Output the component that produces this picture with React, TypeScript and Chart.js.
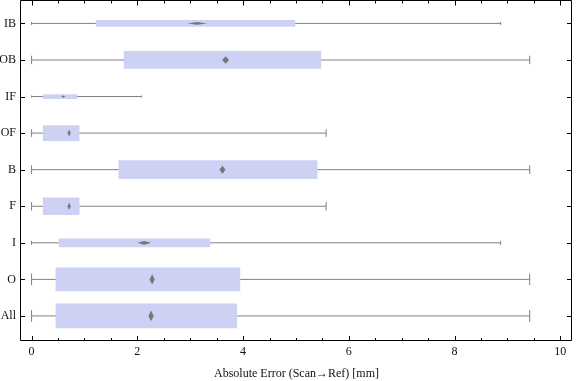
import React, { useEffect, useRef } from "react";
import { Chart, registerables } from "chart.js";

Chart.register(...registerables);

// ---- data ----
const categories = ["IB", "OB", "IF", "OF", "B", "F", "I", "O", "All"];
const minValues = [0, 0, 0, 0, 0, 0, 0, 0, 0];
const q1Values = [1.22, 1.75, 0.22, 0.22, 1.65, 0.22, 0.52, 0.46, 0.46];
const medianValues = [3.13, 3.67, 0.6, 0.71, 3.61, 0.71, 2.13, 2.28, 2.26];
const q3Values = [4.98, 5.47, 0.86, 0.9, 5.4, 0.9, 3.37, 3.94, 3.88];
const maxValues = [8.87, 9.42, 2.08, 5.57, 9.42, 5.57, 8.87, 9.42, 9.42];
// relative sample share (drives box thickness) and median confidence half-width
const sampleShare = [0.25, 0.71, 0.17, 0.63, 0.75, 0.71, 0.34, 0.96, 1.0];
const medianCI = [0.18, 0.066, 0.04, 0.03, 0.057, 0.03, 0.13, 0.05, 0.05];
const xTickValues = [0, 2, 4, 6, 8, 10];
const xAxisTitle = "Absolute Error (Scan\u2192Ref) [mm]";

// ---- style ----
const FONT = "'Liberation Serif', 'DejaVu Serif', serif";
const BOX_MAX = 24;
const BOX_COLOR = "rgb(205,210,245)";
const WHISKER_COLOR = "rgb(128,128,128)";
const DIAMOND_COLOR = "rgb(118,118,118)";

const framePlugin = {
  id: "frameAndMedians",
  afterDatasetsDraw(chart: any) {
    const ctx = chart.ctx;
    const xs = chart.scales.x;
    const ys = chart.scales.y;
    ctx.save();
    ctx.fillStyle = DIAMOND_COLOR;
    categories.forEach((_, i) => {
      const cx = xs.getPixelForValue(medianValues[i]);
      const hw = xs.getPixelForValue(medianValues[i] + medianCI[i]) - cx;
      const cy = ys.getPixelForValue(i);
      const hh = (sampleShare[i] * BOX_MAX * 0.45) / 2;
      ctx.beginPath();
      ctx.moveTo(cx - hw, cy);
      ctx.lineTo(cx, cy - hh);
      ctx.lineTo(cx + hw, cy);
      ctx.lineTo(cx, cy + hh);
      ctx.closePath();
      ctx.fill();
    });
    ctx.restore();
  },
  afterDraw(chart: any) {
    const ctx = chart.ctx;
    const { left, right, top, bottom } = chart.chartArea;
    const xs = chart.scales.x;
    const ys = chart.scales.y;
    ctx.save();
    ctx.strokeStyle = "#000";
    ctx.lineWidth = 1;
    ctx.beginPath();
    const l = Math.round(left) - 0.5;
    const r = Math.round(right) - 0.5;
    const t = Math.round(top) + 0.5;
    const b = Math.round(bottom) - 0.5;
    ctx.rect(l, t, r - l, b - t);
    ctx.stroke();
    ctx.beginPath();
    for (let v = 0; v <= 10.001; v += 0.5) {
      const px = Math.round(xs.getPixelForValue(v)) + 0.5;
      const major = Math.abs(v / 2 - Math.round(v / 2)) < 1e-6;
      const lenB = major ? 4.5 : 2.5;
      const lenT = major ? 5 : 3;
      ctx.moveTo(px, b);
      ctx.lineTo(px, b - lenB);
      ctx.moveTo(px, t);
      ctx.lineTo(px, t + lenT);
    }
    categories.forEach((_, i) => {
      const py = Math.round(ys.getPixelForValue(i)) + 0.5;
      ctx.moveTo(l, py);
      ctx.lineTo(l + 4.5, py);
      ctx.moveTo(r, py);
      ctx.lineTo(r - 4.5, py);
    });
    ctx.stroke();
    ctx.restore();
  },
};

export default function App() {
  const canvasRef = useRef<HTMLCanvasElement | null>(null);

  useEffect(() => {
    document.body.style.margin = "0";
    const canvas = canvasRef.current;
    if (!canvas) return;

    const whiskerSets = categories.map((_, i) => ({
      type: "line" as const,
      data: [
        { x: minValues[i], y: i },
        { x: maxValues[i], y: i },
      ],
      borderColor: WHISKER_COLOR,
      borderWidth: 1,
      pointStyle: "line" as const,
      rotation: 90,
      pointRotation: 90,
      pointRadius: (sampleShare[i] * BOX_MAX * 0.5) / 2,
      pointBorderWidth: 1,
      pointBorderColor: WHISKER_COLOR,
      pointHoverRadius: 0,
      order: 2,
    }));

    const boxSets = categories.map((_, i) => ({
      type: "bar" as const,
      data: [{ x: [q1Values[i], q3Values[i]], y: i }],
      backgroundColor: BOX_COLOR,
      borderWidth: 0,
      barThickness: sampleShare[i] * BOX_MAX,
      grouped: false,
      order: 1,
    }));

    const chart = new Chart(canvas, {
      type: "bar",
      data: { datasets: [...whiskerSets, ...boxSets] as any },
      options: {
        indexAxis: "y",
        animation: false,
        responsive: false,
        devicePixelRatio: 1,
        layout: { autoPadding: false, padding: { top: 0, right: 4, bottom: 0, left: 0 } },
        plugins: { legend: { display: false }, tooltip: { enabled: false } },
        scales: {
          x: {
            type: "linear",
            min: -0.2,
            max: 10.22,
            afterBuildTicks: (s: any) => {
              s.ticks = xTickValues.map((v) => ({ value: v }));
            },
            afterFit: (s: any) => {
              s.height = 40;
              s.paddingLeft = 0;
              s.paddingRight = 0;
            },
            grid: { display: false, drawTicks: false },
            border: { display: false },
            ticks: {
              color: "#111",
              padding: 4,
              font: { family: FONT, size: 12 },
              maxRotation: 0,
            },
            title: {
              display: true,
              text: xAxisTitle,
              color: "#111",
              font: { family: FONT, size: 12 },
              padding: { top: 0, bottom: 0 },
            },
          },
          y: {
            type: "linear",
            min: -0.64,
            max: 8.685,
            reverse: true,
            offset: false,
            afterBuildTicks: (s: any) => {
              s.ticks = categories.map((_, i) => ({ value: i }));
            },
            afterFit: (s: any) => {
              s.width = 21;
              s.paddingTop = 0;
              s.paddingBottom = 0;
            },
            grid: { display: false, drawTicks: false },
            border: { display: false },
            ticks: {
              color: "#111",
              padding: 5,
              font: { family: FONT, size: 12 },
              callback: (v: any) => categories[Math.round(Number(v))] ?? "",
            },
          },
        },
      },
      plugins: [framePlugin],
    } as any);

    return () => chart.destroy();
  }, []);

  return (
    <div style={{ width: 576, height: 381 }}>
      <canvas ref={canvasRef} width={576} height={381} style={{ display: "block" }} />
    </div>
  );
}
